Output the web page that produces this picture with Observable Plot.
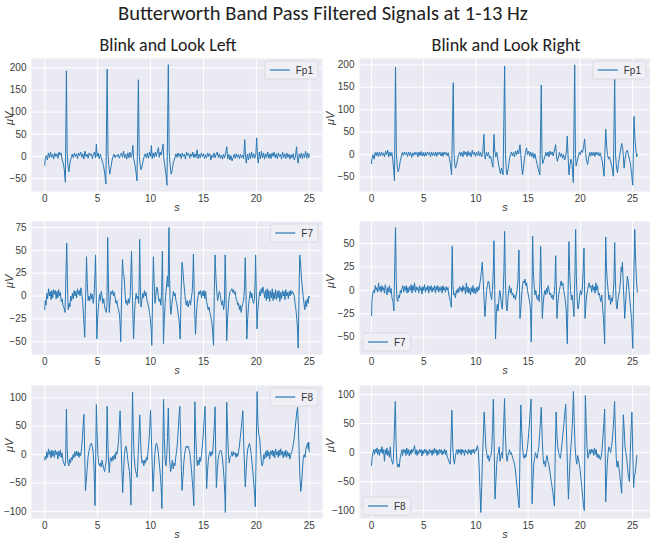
<!DOCTYPE html>
<html><head><meta charset="utf-8">
<script src="https://cdn.jsdelivr.net/npm/d3@7"></script>
<script src="https://cdn.jsdelivr.net/npm/@observablehq/plot@0.6"></script>
<style>
html,body{margin:0;padding:0;background:#fff;}
#root{position:relative;width:650px;height:540px;overflow:hidden;font-family:"Liberation Sans",Arial,sans-serif;}
.panel{position:absolute;}
#titles{position:absolute;left:0;top:0;}
</style></head><body>
<div id="root"><svg id="titles" width="650" height="60"></svg></div>
<script>
// ---------- text ----------
const mainTitle = "Butterworth Band Pass Filtered Signals at 1-13 Hz";
const columnTitles = ["Blink and Look Left", "Blink and Look Right"];
const xLabel = "s";
const yLabel = "μV";

// ---------- ticks ----------
const xTicks = [0, 5, 10, 15, 20, 25];
const fp1Ticks = [-50, 0, 50, 100, 150, 200];
const f7LeftTicks = [-50, -25, 0, 25, 50, 75];
const f7RightTicks = [-50, -25, 0, 25, 50];
const f8Ticks = [-100, -50, 0, 50, 100];

// ---------- signals: [time s, amplitude µV] ----------
const leftFp1 = [[0,-20],[0.05,-5],[0.15,2],[0.25,-8],[0.35,8],[0.45,-3],[0.55,10],[0.65,-2],[0.75,5],[0.85,-6],[0.95,8],[1.05,0],[1.15,6],[1.25,-4],[1.35,10],[1.45,3],[1.55,8],[1.65,-8],[1.75,-15],[1.85,-30],[1.95,-58],[2.05,193],[2.12,10],[2.2,-20],[2.28,-35],[2.38,-15],[2.48,-5],[2.6,5],[2.7,-3],[2.8,8],[2.9,0],[3,6],[3.1,-5],[3.2,8],[3.3,2],[3.4,10],[3.5,-2],[3.6,6],[3.7,-6],[3.8,12],[3.9,0],[4,5],[4.1,-4],[4.2,8],[4.3,2],[4.4,6],[4.5,-5],[4.6,5],[4.7,10],[4.8,-3],[4.88,28],[4.95,0],[5.05,8],[5.15,-5],[5.25,5],[5.35,-3],[5.45,-12],[5.55,-20],[5.65,-35],[5.78,-62],[5.9,197],[5.98,5],[6.05,-20],[6.15,-40],[6.25,-25],[6.35,-10],[6.45,0],[6.55,5],[6.65,-3],[6.75,3],[6.85,0],[6.95,5],[7.05,-4],[7.15,3],[7.25,8],[7.35,-2],[7.45,12],[7.55,-3],[7.65,5],[7.75,-6],[7.85,8],[7.95,-3],[8.05,10],[8.15,-2],[8.25,5],[8.33,25],[8.4,-5],[8.5,-15],[8.6,-30],[8.72,-55],[8.85,173],[8.93,5],[9,-15],[9.1,-30],[9.2,-22],[9.3,-10],[9.4,0],[9.5,6],[9.6,-3],[9.7,8],[9.8,-4],[9.9,10],[10,0],[10.08,25],[10.15,-5],[10.25,8],[10.35,-2],[10.45,10],[10.55,0],[10.65,12],[10.75,20],[10.82,-2],[10.9,10],[11,3],[11.1,15],[11.18,28],[11.25,-5],[11.35,-20],[11.45,-40],[11.55,-65],[11.68,207],[11.76,10],[11.85,-20],[11.95,-40],[12.05,-30],[12.15,-15],[12.3,-3],[12.4,6],[12.5,-2],[12.6,8],[12.7,0],[12.8,6],[12.9,-5],[13,8],[13.1,0],[13.2,5],[13.3,-6],[13.4,10],[13.5,2],[13.6,7],[13.7,-4],[13.8,6],[13.9,0],[14,10],[14.1,-3],[14.2,6],[14.3,-2],[14.4,15],[14.5,-5],[14.6,5],[14.7,-3],[14.8,8],[14.9,0],[15,6],[15.1,-5],[15.2,4],[15.3,-3],[15.4,8],[15.5,0],[15.6,6],[15.7,-8],[15.8,3],[15.9,-2],[16,8],[16.1,-3],[16.2,5],[16.3,10],[16.4,-2],[16.5,6],[16.6,-4],[16.7,3],[16.8,-6],[16.9,5],[17,-3],[17.1,8],[17.2,22],[17.3,-5],[17.4,4],[17.5,-8],[17.6,2],[17.7,-10],[17.8,-3],[17.9,5],[18,-4],[18.1,6],[18.2,-2],[18.3,4],[18.4,-5],[18.5,5],[18.6,-3],[18.7,3],[18.8,-5],[18.9,38],[18.98,-2],[19.05,-15],[19.15,5],[19.25,-8],[19.35,8],[19.45,-5],[19.55,10],[19.65,-3],[19.75,6],[19.85,-4],[19.95,5],[20.03,42],[20.1,0],[20.18,-15],[20.28,10],[20.38,-5],[20.48,12],[20.58,-3],[20.68,8],[20.78,-6],[20.88,6],[20.98,-2],[21.08,10],[21.18,-4],[21.28,6],[21.38,-5],[21.48,8],[21.58,0],[21.68,10],[21.78,-3],[21.88,6],[21.98,-5],[22.08,8],[22.18,0],[22.28,5],[22.38,-6],[22.48,10],[22.58,-2],[22.68,6],[22.78,-5],[22.88,8],[22.98,-2],[23.08,5],[23.18,-6],[23.28,4],[23.38,-3],[23.48,6],[23.58,-8],[23.68,-2],[23.8,22],[23.88,-5],[23.95,-15],[24.05,5],[24.15,-3],[24.25,8],[24.35,-5],[24.45,6],[24.55,-2],[24.65,12],[24.75,-4],[24.85,8],[24.95,-3],[25,5]];

const rightFp1 = [[0,-20],[0.05,-8],[0.15,0],[0.25,-10],[0.35,5],[0.45,-2],[0.55,6],[0.65,-4],[0.75,5],[0.85,-3],[0.95,6],[1.05,-2],[1.15,4],[1.25,-5],[1.35,8],[1.45,0],[1.55,10],[1.65,-5],[1.75,6],[1.85,-3],[1.95,5],[2.05,-15],[2.13,-35],[2.2,-58],[2.3,195],[2.38,5],[2.46,-25],[2.55,-38],[2.65,-30],[2.75,-15],[2.85,-5],[2.95,5],[3.05,-2],[3.15,6],[3.25,0],[3.35,5],[3.45,-4],[3.55,6],[3.65,-2],[3.75,5],[3.85,-6],[3.95,4],[4.05,-2],[4.15,6],[4.25,0],[4.35,5],[4.45,-5],[4.55,6],[4.65,-2],[4.75,7],[4.85,-3],[4.95,5],[5.05,-4],[5.15,5],[5.25,-3],[5.35,6],[5.45,0],[5.55,5],[5.65,-5],[5.75,6],[5.85,-2],[5.95,5],[6.05,-3],[6.15,6],[6.25,-4],[6.35,5],[6.45,0],[6.55,6],[6.65,-3],[6.75,5],[6.85,-4],[6.95,6],[7.05,0],[7.15,5],[7.25,-3],[7.35,4],[7.45,-8],[7.55,-20],[7.67,-45],[7.83,160],[7.9,5],[7.97,-20],[8.05,-30],[8.15,-22],[8.25,-10],[8.35,0],[8.45,6],[8.55,-3],[8.65,5],[8.75,-5],[8.85,8],[8.95,0],[9.05,6],[9.15,-4],[9.25,8],[9.35,-2],[9.45,5],[9.55,-5],[9.65,10],[9.75,0],[9.85,6],[9.95,-4],[10.05,5],[10.15,-2],[10.25,8],[10.35,-3],[10.45,5],[10.55,-5],[10.65,2],[10.77,45],[10.83,0],[10.9,-10],[11,5],[11.1,-3],[11.2,5],[11.3,-8],[11.4,-3],[11.5,-15],[11.63,-28],[11.73,45],[11.8,10],[11.9,-5],[12,5],[12.1,-10],[12.2,-25],[12.36,-43],[12.45,-30],[12.6,-45],[12.75,197],[12.83,0],[12.9,-30],[12.98,-45],[13.1,-30],[13.2,-12],[13.3,0],[13.4,6],[13.5,-3],[13.6,5],[13.7,-5],[13.8,8],[13.9,0],[14,10],[14.1,2],[14.22,22],[14.3,0],[14.38,-25],[14.46,-45],[14.55,-30],[14.65,-10],[14.75,5],[14.85,15],[14.95,0],[15.05,8],[15.15,-3],[15.25,6],[15.35,-5],[15.45,4],[15.55,-8],[15.65,2],[15.75,-10],[15.85,-20],[15.95,-30],[16.05,-40],[16.13,-45],[16.26,155],[16.33,0],[16.4,-20],[16.5,-12],[16.6,-5],[16.7,5],[16.8,-3],[16.9,6],[17,-5],[17.1,8],[17.2,0],[17.3,6],[17.4,-3],[17.5,8],[17.64,22],[17.72,-5],[17.8,-15],[17.9,-5],[18,5],[18.1,-5],[18.2,3],[18.3,-8],[18.4,0],[18.5,-12],[18.6,-3],[18.68,10],[18.75,41],[18.82,0],[18.91,-45],[19,-25],[19.1,-10],[19.2,-20],[19.33,-62],[19.46,200],[19.53,0],[19.6,-25],[19.7,-15],[19.8,-5],[19.9,5],[20,0],[20.1,10],[20.2,5],[20.3,15],[20.41,35],[20.5,5],[20.6,-15],[20.7,-22],[20.8,-8],[20.9,5],[21,-3],[21.1,6],[21.2,-2],[21.3,5],[21.4,-4],[21.5,6],[21.6,0],[21.7,5],[21.8,-3],[21.9,4],[22,-5],[22.1,-15],[22.18,-30],[22.27,-48],[22.43,57],[22.52,20],[22.6,0],[22.7,-10],[22.8,-5],[22.9,-15],[23,-25],[23.08,-35],[23.16,-48],[23.29,170],[23.37,0],[23.45,-25],[23.55,-40],[23.65,-20],[23.75,-5],[23.85,10],[23.96,25],[24.05,15],[24.12,-5],[24.19,-30],[24.28,-10],[24.38,5],[24.5,10],[24.6,0],[24.7,-10],[24.8,-20],[24.9,-40],[25.02,-68],[25.14,85],[25.22,40],[25.32,10],[25.4,-5],[25.46,0]];

const leftF7 = [[0,-15],[0.05,-5],[0.12,-10],[0.2,3],[0.28,-3],[0.36,8],[0.44,0],[0.52,5],[0.6,-4],[0.68,6],[0.76,-2],[0.84,7],[0.92,2],[1,6],[1.08,-3],[1.16,5],[1.24,-2],[1.32,7],[1.4,0],[1.48,4],[1.56,-6],[1.64,-3],[1.72,-10],[1.8,-12],[1.92,-18],[2.08,58],[2.15,10],[2.22,-15],[2.3,-8],[2.38,-12],[2.46,0],[2.54,-5],[2.62,3],[2.7,-3],[2.78,6],[2.86,0],[2.94,5],[3.02,-2],[3.1,8],[3.18,2],[3.26,6],[3.34,0],[3.42,9],[3.5,3],[3.58,-5],[3.66,-20],[3.78,-45],[3.95,43],[4.02,15],[4.1,-5],[4.18,0],[4.26,-5],[4.34,3],[4.42,-3],[4.5,2],[4.58,-8],[4.66,0],[4.74,20],[4.8,45],[4.87,0],[4.93,-47],[5.02,-20],[5.1,-8],[5.18,2],[5.26,-5],[5.34,5],[5.42,0],[5.5,-8],[5.58,-3],[5.66,-12],[5.74,-15],[5.82,-18],[5.88,-10],[5.95,64],[6.02,15],[6.1,-18],[6.18,-5],[6.26,5],[6.34,2],[6.42,6],[6.5,0],[6.58,4],[6.66,-3],[6.74,-8],[6.82,-5],[6.9,-12],[6.98,-15],[7.06,-20],[7.12,-30],[7.18,-50],[7.28,10],[7.35,40],[7.42,25],[7.5,22],[7.58,5],[7.66,-8],[7.74,-5],[7.82,-10],[7.9,-3],[7.98,-8],[8.06,-2],[8.12,15],[8.2,49],[8.28,5],[8.34,-25],[8.4,-47],[8.48,-20],[8.56,-5],[8.64,3],[8.72,-3],[8.8,0],[8.88,-8],[8.93,20],[8.97,62],[9.04,10],[9.1,-12],[9.18,-5],[9.26,3],[9.34,-2],[9.42,6],[9.5,0],[9.58,4],[9.66,-5],[9.74,-8],[9.82,-12],[9.9,-18],[9.98,-25],[10.05,-35],[10.12,-54],[10.2,5],[10.27,43],[10.34,15],[10.42,-8],[10.5,0],[10.58,10],[10.66,8],[10.74,-2],[10.82,-6],[10.9,-3],[10.98,-10],[11.05,5],[11.12,49],[11.17,0],[11.22,-52],[11.3,-25],[11.38,-8],[11.46,5],[11.54,15],[11.6,22],[11.66,10],[11.74,75],[11.8,20],[11.86,-10],[11.92,-20],[12,-10],[12.08,-3],[12.16,5],[12.24,0],[12.32,3],[12.4,-5],[12.48,-8],[12.56,-15],[12.64,-22],[12.72,-30],[12.8,-47],[12.88,0],[12.97,37],[13.05,30],[13.14,15],[13.22,5],[13.3,-5],[13.38,-10],[13.46,-5],[13.54,-12],[13.62,-8],[13.7,-5],[13.78,-10],[13.86,-2],[13.94,5],[14,20],[14.05,46],[14.12,10],[14.18,-20],[14.25,-42],[14.33,-20],[14.41,-8],[14.49,0],[14.57,5],[14.65,2],[14.73,6],[14.81,-2],[14.89,5],[14.97,0],[15.05,6],[15.13,-3],[15.21,5],[15.29,-6],[15.37,-10],[15.45,-15],[15.53,-12],[15.61,-18],[15.69,-22],[15.77,-28],[15.85,-35],[15.95,-54],[16.03,5],[16.1,45],[16.18,20],[16.26,5],[16.34,-5],[16.42,0],[16.5,5],[16.58,2],[16.66,-5],[16.74,-10],[16.82,-5],[16.9,-15],[16.98,-8],[17.05,45],[17.12,10],[17.2,-49],[17.28,-25],[17.36,-10],[17.44,0],[17.52,5],[17.6,6],[17.68,8],[17.76,4],[17.84,7],[17.92,2],[18,5],[18.08,-3],[18.16,-5],[18.24,-10],[18.32,-8],[18.4,-15],[18.48,-10],[18.56,-18],[18.64,-12],[18.72,-8],[18.8,-5],[18.88,10],[18.95,42],[19.02,5],[19.1,-47],[19.18,-25],[19.26,-10],[19.34,-3],[19.42,5],[19.5,-2],[19.58,3],[19.66,-5],[19.74,-8],[19.82,-3],[19.88,15],[19.93,45],[19.99,5],[20.06,-36],[20.14,-15],[20.22,-5],[20.3,5],[20.38,0],[20.46,8],[20.54,3],[20.62,10],[20.7,5],[20.78,-2],[20.86,6],[20.94,-5],[21.02,8],[21.1,-3],[21.18,6],[21.26,-6],[21.34,5],[21.42,-2],[21.5,8],[21.58,-5],[21.66,4],[21.74,-3],[21.82,7],[21.9,-4],[21.98,5],[22.06,-2],[22.14,6],[22.22,-6],[22.3,4],[22.38,-3],[22.46,6],[22.54,0],[22.62,5],[22.7,-4],[22.78,7],[22.86,0],[22.94,4],[23.02,-3],[23.1,5],[23.18,0],[23.26,6],[23.34,2],[23.42,5],[23.5,3],[23.58,0],[23.66,-8],[23.74,-15],[23.82,-25],[23.88,-35],[23.95,-57],[24.03,0],[24.1,45],[24.18,35],[24.26,20],[24.34,10],[24.42,0],[24.5,-8],[24.58,-15],[24.66,-5],[24.74,-12],[24.82,-3],[24.9,-8],[24.96,0],[25,-2]];

const rightF7 = [[0,-27],[0.05,-10],[0.12,-3],[0.2,0],[0.28,-3],[0.36,5],[0.44,0],[0.52,3],[0.6,-2],[0.68,8],[0.76,0],[0.84,4],[0.92,-2],[1,5],[1.08,0],[1.16,3],[1.24,-3],[1.32,6],[1.4,0],[1.48,-5],[1.56,3],[1.64,-2],[1.72,5],[1.8,-3],[1.88,2],[1.96,-8],[2.06,-12],[2.14,-22],[2.3,67],[2.37,10],[2.44,-10],[2.52,-12],[2.6,-5],[2.68,-8],[2.76,0],[2.84,-3],[2.92,2],[3,5],[3.08,-2],[3.16,4],[3.24,0],[3.32,5],[3.4,-3],[3.48,3],[3.56,-2],[3.64,4],[3.72,0],[3.8,6],[3.88,-3],[3.96,5],[4.04,0],[4.12,8],[4.2,-2],[4.28,4],[4.36,0],[4.44,3],[4.52,-3],[4.6,5],[4.68,0],[4.76,3],[4.84,-4],[4.92,4],[5,0],[5.08,6],[5.16,-2],[5.24,3],[5.32,0],[5.4,5],[5.48,-3],[5.56,4],[5.64,0],[5.72,5],[5.8,-2],[5.88,3],[5.96,0],[6.04,5],[6.12,-3],[6.2,4],[6.28,0],[6.36,5],[6.44,-2],[6.52,3],[6.6,0],[6.68,4],[6.76,-3],[6.84,5],[6.92,0],[7,3],[7.08,-2],[7.16,4],[7.24,0],[7.32,3],[7.4,-5],[7.48,-8],[7.56,-12],[7.64,-18],[7.73,47],[7.8,5],[7.88,-5],[7.96,-3],[8.04,-8],[8.12,0],[8.2,-3],[8.28,2],[8.36,-2],[8.44,4],[8.52,0],[8.6,3],[8.68,-2],[8.76,5],[8.84,0],[8.92,3],[9,-4],[9.08,8],[9.16,-2],[9.24,4],[9.32,-3],[9.4,2],[9.48,-5],[9.56,3],[9.64,-2],[9.72,5],[9.8,-3],[9.88,2],[9.96,-4],[10.04,3],[10.12,-2],[10.2,4],[10.28,0],[10.36,6],[10.44,12],[10.52,20],[10.61,30],[10.7,10],[10.78,-10],[10.86,-28],[10.94,-15],[11.02,0],[11.1,5],[11.18,10],[11.26,8],[11.34,0],[11.42,-5],[11.5,-10],[11.58,0],[11.66,20],[11.73,53],[11.8,0],[11.88,-52],[11.96,-25],[12.04,-15],[12.12,-22],[12.2,-10],[12.28,0],[12.36,-5],[12.44,-15],[12.52,-20],[12.6,-5],[12.68,20],[12.75,63],[12.82,10],[12.9,-15],[12.98,-22],[13.06,-10],[13.14,0],[13.22,5],[13.3,-3],[13.38,2],[13.46,-5],[13.54,-3],[13.62,-8],[13.7,-5],[13.78,-10],[13.86,-5],[13.94,0],[14.02,10],[14.12,43],[14.17,5],[14.22,-30],[14.3,-20],[14.38,-5],[14.46,5],[14.54,10],[14.62,8],[14.7,12],[14.78,5],[14.86,8],[14.94,0],[15.02,-5],[15.1,-10],[15.18,-15],[15.24,-25],[15.3,-55],[15.37,0],[15.43,58],[15.5,20],[15.58,5],[15.66,-5],[15.74,0],[15.82,-8],[15.9,-10],[15.98,-5],[16.06,-12],[16.13,10],[16.2,47],[16.28,5],[16.36,-30],[16.44,-15],[16.52,-5],[16.6,0],[16.68,-5],[16.76,2],[16.84,-3],[16.92,5],[17,0],[17.08,-5],[17.16,-3],[17.24,-8],[17.32,-5],[17.4,-10],[17.48,-5],[17.56,5],[17.64,37],[17.7,5],[17.76,-30],[17.84,-15],[17.92,-5],[18,0],[18.08,5],[18.16,10],[18.24,5],[18.32,8],[18.4,0],[18.48,-5],[18.56,-10],[18.64,-20],[18.75,-57],[18.83,0],[18.91,52],[18.98,20],[19.06,0],[19.14,-10],[19.22,-5],[19.3,-15],[19.39,-28],[19.47,10],[19.55,65],[19.62,15],[19.7,-10],[19.78,-20],[19.86,-15],[19.94,-5],[20.02,0],[20.1,-5],[20.18,0],[20.27,20],[20.35,45],[20.4,5],[20.45,-30],[20.53,-15],[20.61,-5],[20.69,0],[20.77,5],[20.85,8],[20.93,3],[21.01,5],[21.09,-2],[21.17,6],[21.25,0],[21.33,4],[21.41,-3],[21.49,8],[21.57,0],[21.65,5],[21.73,-5],[21.81,-3],[21.89,-8],[21.97,-12],[22.05,-5],[22.13,-18],[22.22,-30],[22.33,-57],[22.38,0],[22.43,57],[22.5,25],[22.58,10],[22.66,0],[22.74,-10],[22.82,-5],[22.9,-15],[22.98,-8],[23.06,-12],[23.14,-5],[23.22,10],[23.29,51],[23.36,10],[23.44,-15],[23.52,-20],[23.6,-10],[23.68,-5],[23.76,0],[23.84,10],[23.92,25],[23.98,20],[24.03,30],[24.1,10],[24.18,-10],[24.25,-30],[24.33,-15],[24.41,0],[24.5,15],[24.58,10],[24.66,0],[24.74,-10],[24.82,-20],[24.9,-30],[24.96,-45],[25.02,-62],[25.1,0],[25.21,65],[25.3,30],[25.38,10],[25.46,-2]];

const leftF8 = [[0,-10],[0.05,-3],[0.12,-8],[0.2,5],[0.28,-5],[0.36,10],[0.44,0],[0.52,6],[0.6,-6],[0.68,8],[0.76,-3],[0.84,6],[0.92,-5],[1,8],[1.08,0],[1.16,5],[1.24,-8],[1.32,6],[1.4,-3],[1.48,8],[1.56,-5],[1.64,3],[1.72,-10],[1.8,-15],[1.9,-20],[1.98,-10],[2.05,80],[2.12,10],[2.2,-15],[2.28,-20],[2.36,-8],[2.44,-15],[2.52,-5],[2.6,-10],[2.68,0],[2.76,-6],[2.84,5],[2.92,-3],[3,6],[3.08,-2],[3.16,5],[3.24,-5],[3.32,3],[3.4,-2],[3.48,10],[3.56,30],[3.63,50],[3.7,71],[3.77,10],[3.85,-64],[3.93,-45],[4.01,-25],[4.09,-5],[4.17,5],[4.25,12],[4.33,18],[4.41,20],[4.49,15],[4.57,5],[4.65,-20],[4.7,-50],[4.75,-90],[4.82,0],[4.88,88],[4.95,40],[5.02,0],[5.1,-15],[5.18,-20],[5.26,-15],[5.34,-22],[5.42,-10],[5.5,-18],[5.58,-25],[5.66,-30],[5.74,-20],[5.82,-10],[5.9,85],[5.97,20],[6.04,-15],[6.1,-32],[6.18,-10],[6.26,-5],[6.34,-12],[6.42,-3],[6.5,-10],[6.58,0],[6.66,-8],[6.74,5],[6.82,0],[6.9,10],[6.98,25],[7.05,50],[7.12,77],[7.2,30],[7.28,-20],[7.37,-67],[7.45,-30],[7.53,0],[7.61,12],[7.69,15],[7.77,5],[7.85,-10],[7.93,-20],[8.01,-30],[8.08,-50],[8.15,-89],[8.22,10],[8.3,110],[8.37,40],[8.44,0],[8.52,-20],[8.6,-30],[8.68,-35],[8.73,-40],[8.8,-15],[8.88,20],[8.98,70],[9.05,30],[9.12,0],[9.2,-15],[9.28,-10],[9.36,-20],[9.44,-10],[9.52,-15],[9.6,-5],[9.68,-10],[9.76,5],[9.84,20],[9.92,45],[10,78],[10.08,30],[10.16,-20],[10.24,-65],[10.32,-30],[10.4,0],[10.48,15],[10.56,20],[10.64,15],[10.72,5],[10.8,-10],[10.88,-25],[10.96,-45],[11.03,-70],[11.07,-95],[11.15,0],[11.23,97],[11.3,30],[11.38,-10],[11.46,-20],[11.54,0],[11.6,30],[11.68,82],[11.75,20],[11.82,-15],[11.9,-30],[11.98,-20],[12.06,-10],[12.14,-25],[12.22,-15],[12.3,-20],[12.38,-5],[12.46,5],[12.54,20],[12.62,45],[12.7,70],[12.77,85],[12.85,20],[12.92,-30],[12.98,-63],[13.06,-40],[13.14,-15],[13.22,0],[13.3,10],[13.38,15],[13.46,12],[13.54,15],[13.62,10],[13.7,5],[13.78,-10],[13.86,-25],[13.94,-45],[14.02,-65],[14.09,-90],[14.14,0],[14.19,93],[14.26,40],[14.34,0],[14.42,-20],[14.5,-10],[14.58,-18],[14.66,-5],[14.74,-12],[14.82,0],[14.9,15],[14.98,35],[15.06,60],[15.15,85],[15.22,20],[15.3,-60],[15.38,-30],[15.46,-10],[15.54,0],[15.62,5],[15.7,-3],[15.78,5],[15.86,0],[15.94,20],[16.02,50],[16.1,84],[16.16,0],[16.22,-58],[16.3,-30],[16.38,-10],[16.46,0],[16.54,5],[16.62,8],[16.7,5],[16.78,-5],[16.86,-20],[16.94,-40],[17.02,-70],[17.07,-102],[17.14,0],[17.2,92],[17.28,40],[17.36,0],[17.44,-15],[17.52,-5],[17.6,-2],[17.68,5],[17.76,-3],[17.84,5],[17.92,0],[18,3],[18.08,-5],[18.16,2],[18.24,-3],[18.32,5],[18.4,15],[18.48,30],[18.56,45],[18.64,60],[18.72,77],[18.8,20],[18.88,-20],[18.95,-57],[19.03,-30],[19.11,-5],[19.19,10],[19.27,15],[19.35,20],[19.43,12],[19.51,0],[19.59,-15],[19.67,-30],[19.75,-50],[19.83,-70],[19.9,-92],[19.98,0],[20.07,111],[20.14,60],[20.22,35],[20.3,31],[20.38,10],[20.46,-10],[20.54,-20],[20.62,-15],[20.7,0],[20.78,-8],[20.86,5],[20.94,-5],[21.02,8],[21.1,-3],[21.18,5],[21.26,-8],[21.34,6],[21.42,0],[21.5,8],[21.58,-3],[21.66,6],[21.74,-6],[21.82,10],[21.9,0],[21.98,5],[22.06,-5],[22.14,8],[22.22,-2],[22.3,10],[22.38,0],[22.46,6],[22.54,-6],[22.62,5],[22.7,-3],[22.78,8],[22.86,-5],[22.94,5],[23.02,-3],[23.1,3],[23.18,-8],[23.26,0],[23.34,5],[23.42,10],[23.5,20],[23.58,30],[23.66,45],[23.74,60],[23.82,75],[23.9,83],[23.97,50],[24.05,0],[24.12,-40],[24.2,-65],[24.28,-50],[24.36,-25],[24.44,-5],[24.52,0],[24.6,-5],[24.68,10],[24.76,15],[24.84,20],[24.9,10],[24.95,22],[25,5]];

const rightF8 = [[0,-22],[0.05,-10],[0.12,-2],[0.2,5],[0.28,-3],[0.36,6],[0.44,0],[0.52,8],[0.6,-3],[0.68,5],[0.76,-5],[0.84,6],[0.92,0],[1,10],[1.08,-2],[1.16,5],[1.24,-15],[1.32,5],[1.4,-3],[1.48,8],[1.56,-5],[1.64,3],[1.72,-8],[1.8,10],[1.88,-10],[1.96,-15],[2.04,-20],[2.1,-10],[2.28,88],[2.35,20],[2.42,-15],[2.5,-25],[2.58,-20],[2.66,-25],[2.74,-10],[2.82,-3],[2.9,5],[2.98,-5],[3.06,6],[3.14,0],[3.22,5],[3.3,-5],[3.38,8],[3.46,-2],[3.54,5],[3.62,-6],[3.7,4],[3.78,-3],[3.86,6],[3.94,0],[4.02,5],[4.13,12],[4.2,-3],[4.28,5],[4.36,-5],[4.44,3],[4.52,-2],[4.6,6],[4.68,0],[4.76,5],[4.84,-6],[4.92,4],[5,-2],[5.08,6],[5.16,0],[5.24,5],[5.32,-5],[5.4,3],[5.48,-3],[5.56,6],[5.64,0],[5.72,4],[5.8,-5],[5.88,5],[5.96,-2],[6.04,8],[6.12,0],[6.2,5],[6.28,-5],[6.36,4],[6.44,-3],[6.52,6],[6.6,0],[6.68,5],[6.76,-4],[6.84,3],[6.92,-2],[7,6],[7.08,-3],[7.16,4],[7.24,-6],[7.32,-10],[7.4,-15],[7.54,-20],[7.7,73],[7.78,10],[7.86,-10],[7.94,-20],[8.02,-8],[8.1,0],[8.18,5],[8.26,-3],[8.34,6],[8.42,0],[8.5,5],[8.58,-4],[8.66,6],[8.74,0],[8.82,4],[8.9,-5],[8.98,5],[9.06,0],[9.14,3],[9.22,-3],[9.3,6],[9.38,0],[9.46,4],[9.54,-4],[9.62,5],[9.7,0],[9.78,6],[9.86,-2],[9.94,5],[10.02,3],[10.14,12],[10.22,5],[10.3,-20],[10.38,-60],[10.47,-103],[10.55,-60],[10.63,-10],[10.71,30],[10.79,70],[10.87,40],[10.95,10],[11.03,0],[11.11,-10],[11.19,-5],[11.27,-15],[11.35,-8],[11.43,-5],[11.51,5],[11.59,40],[11.67,92],[11.75,10],[11.83,-80],[11.91,-50],[11.99,-20],[12.07,-5],[12.15,0],[12.23,10],[12.31,-15],[12.39,-5],[12.47,0],[12.55,-10],[12.63,30],[12.74,93],[12.82,30],[12.9,0],[12.98,-15],[13.06,-5],[13.14,0],[13.22,5],[13.3,-3],[13.38,0],[13.46,-5],[13.54,-10],[13.62,-15],[13.7,-20],[13.78,-30],[13.86,-45],[13.94,-60],[14.02,-75],[14.14,-95],[14.22,0],[14.3,82],[14.38,40],[14.46,10],[14.54,-5],[14.62,-10],[14.7,-3],[14.78,-8],[14.86,0],[14.94,10],[15.02,25],[15.1,45],[15.2,70],[15.28,92],[15.33,0],[15.38,-88],[15.46,-50],[15.54,-20],[15.62,-10],[15.7,0],[15.78,-5],[15.86,-10],[15.94,0],[16.02,10],[16.1,30],[16.18,55],[16.26,78],[16.34,30],[16.42,-5],[16.5,-20],[16.58,-15],[16.66,-25],[16.74,-10],[16.82,-5],[16.9,-15],[16.98,-20],[17.06,-30],[17.14,-40],[17.22,-50],[17.3,-60],[17.38,-70],[17.44,-80],[17.52,-92],[17.6,0],[17.68,70],[17.76,30],[17.84,10],[17.92,0],[18,-5],[18.08,-10],[18.16,0],[18.24,15],[18.32,30],[18.4,45],[18.5,65],[18.6,83],[18.68,30],[18.76,-20],[18.86,-80],[18.94,-45],[19.02,-10],[19.1,10],[19.18,30],[19.26,60],[19.34,105],[19.42,50],[19.5,10],[19.58,-10],[19.66,-20],[19.74,-5],[19.82,-10],[19.9,-20],[19.98,-30],[20.06,-45],[20.14,-60],[20.22,-75],[20.3,-90],[20.38,-100],[20.43,0],[20.48,98],[20.56,50],[20.64,10],[20.72,-10],[20.8,-5],[20.88,5],[20.96,-3],[21.04,6],[21.12,0],[21.2,5],[21.28,-5],[21.36,8],[21.44,-3],[21.52,5],[21.6,-8],[21.68,-2],[21.76,-10],[21.84,-5],[21.92,-12],[22,-8],[22.08,5],[22.16,25],[22.25,50],[22.33,75],[22.38,0],[22.43,-85],[22.5,-50],[22.58,-20],[22.66,0],[22.74,10],[22.82,5],[22.9,0],[22.98,10],[23.06,20],[23.14,40],[23.22,65],[23.28,88],[23.36,30],[23.44,-10],[23.52,-25],[23.6,-15],[23.68,-25],[23.76,-35],[23.84,-50],[23.96,-70],[24.04,0],[24.12,65],[24.2,40],[24.28,10],[24.36,0],[24.44,-10],[24.52,-25],[24.6,-40],[24.7,-50],[24.78,0],[24.86,40],[24.94,70],[25.02,0],[25.1,-60],[25.18,-40],[25.26,-35],[25.34,-20],[25.42,-5]];

// ---------- panel setup ----------
const lineColor = "#2878b5";
const bgColor = "#EAEAF2";
const COLS = [{left: 0, ml: 31, mr: 3, xDomain: [-1.25, 26.25], yLabDx: -22},
              {left: 325, ml: 34, mr: 0, xDomain: [-1.15, 26.72], yLabDx: -29}];
const ROW_TOPS = [58, 221, 385];
const PW = 325, BG_H = 133, MT = 2, MB = 32;

const panels = [
  {data: leftFp1,  name: "Fp1", col: 0, row: 0, yDomain: [-79, 221],     yTicks: fp1Ticks,    legend: "tr"},
  {data: rightFp1, name: "Fp1", col: 1, row: 0, yDomain: [-82, 214],     yTicks: fp1Ticks,    legend: "tr"},
  {data: leftF7,   name: "F7",  col: 0, row: 1, yDomain: [-64, 81.6],    yTicks: f7LeftTicks, legend: "tr"},
  {data: rightF7,  name: "F7",  col: 1, row: 1, yDomain: [-68.5, 73.5],  yTicks: f7RightTicks,legend: "bl"},
  {data: leftF8,   name: "F8",  col: 0, row: 2, yDomain: [-112.6, 121.6],yTicks: f8Ticks,     legend: "tr"},
  {data: rightF8,  name: "F8",  col: 1, row: 2, yDomain: [-113.4, 115.4],yTicks: f8Ticks,     legend: "bl"}
];

const root = document.getElementById("root");
const FONT = "'Liberation Sans', Arial, sans-serif";

for (const p of panels) {
  const c = COLS[p.col];
  const plot = Plot.plot({
    width: PW, height: MT + BG_H + MB,
    marginLeft: c.ml, marginRight: c.mr, marginTop: MT, marginBottom: MB,
    style: {fontFamily: FONT, fontSize: "10px", color: "#3c3c3c", background: "transparent", overflow: "visible"},
    x: {domain: c.xDomain},
    y: {domain: p.yDomain},
    marks: [
      Plot.frame({fill: bgColor, stroke: null}),
      Plot.gridX(xTicks, {stroke: "white", strokeOpacity: 1, strokeWidth: 1}),
      Plot.gridY(p.yTicks, {stroke: "white", strokeOpacity: 1, strokeWidth: 1}),
      Plot.axisX(xTicks, {tickSize: 0, tickPadding: 3, label: null, fontSize: 10}),
      Plot.axisY(p.yTicks, {tickSize: 0, tickPadding: 5, label: null, fontSize: 10, tickFormat: d => String(d).replace("-", "−")}),
      Plot.line(p.data, {x: d => d[0], y: d => d[1], stroke: lineColor, strokeWidth: 1}),
      Plot.text([xLabel], {frameAnchor: "bottom", dy: 19, text: d => d, fontSize: 11, fontStyle: "italic"}),
      Plot.text([yLabel], {frameAnchor: "left", dx: c.yLabDx, rotate: -90, text: d => d, fontSize: 11, fontStyle: "italic"})
    ]
  });
  plot.classList.add("panel");
  plot.style.left = c.left + "px";
  plot.style.top = (ROW_TOPS[p.row] - MT) + "px";
  root.appendChild(plot);

  // legend box
  const s = d3.select(plot);
  const g = s.append("g").attr("text-anchor", "start");
  const h = 18;
  const txt = g.append("text").text(p.name)
    .attr("text-anchor", "start").attr("font-size", 10).attr("font-family", FONT).attr("fill", "#333");
  const tw = txt.node().getComputedTextLength();
  const w = 5 + 20 + 6 + tw + 5;
  let x0, y0;
  if (p.legend === "tr") { x0 = c.ml + 291 - 4 - w; y0 = MT + 3; }
  else { x0 = c.ml + 4; y0 = MT + BG_H - 3 - h; }
  g.insert("rect", "text").attr("x", x0).attr("y", y0).attr("width", w).attr("height", h)
    .attr("rx", 2).attr("fill", "#EFEFF5").attr("stroke", "#d6d6de").attr("stroke-width", 0.8);
  g.append("line").attr("x1", x0 + 5).attr("x2", x0 + 25).attr("y1", y0 + h / 2).attr("y2", y0 + h / 2)
    .attr("stroke", lineColor).attr("stroke-width", 1.2);
  txt.attr("x", x0 + 31).attr("y", y0 + h / 2 + 3.5);
}

// ---------- titles ----------
const tsvg = d3.select("#titles");
function fitText(str, cx, baseline, targetW, family) {
  const t = tsvg.append("text").text(str).attr("x", cx).attr("y", baseline)
    .attr("text-anchor", "middle").attr("font-family", family).attr("font-size", 20).attr("fill", "#222");
  const len = t.node().getComputedTextLength();
  t.attr("font-size", (20 * targetW / len).toFixed(2));
}
const TFONT = "Carlito, Lato, 'Open Sans', sans-serif";
fitText(mainTitle, 323, 20, 410, TFONT);
fitText(columnTitles[0], 168, 51, 137, TFONT);
fitText(columnTitles[1], 506, 51, 149, TFONT);
</script>
</body></html>
